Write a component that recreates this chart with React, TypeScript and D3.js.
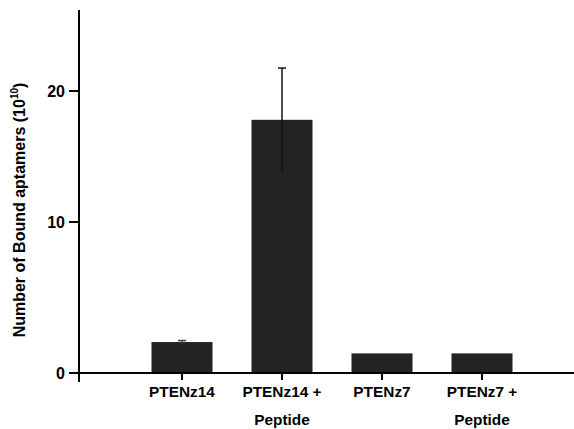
import React from "react";
import * as d3 from "d3";

const categories = ["PTENz14", "PTENz14 + Peptide", "PTENz7", "PTENz7 + Peptide"];
const labelLines = [["PTENz14"], ["PTENz14 +", "Peptide"], ["PTENz7"], ["PTENz7 +", "Peptide"]];
const values = [2.05, 17.8, 1.3, 1.3];
const errors = [0.1, 3.9, 0, 0];
const yTicks = [0, 10, 20];

const W = 574;
const H = 429;

export default function App() {
  const x = d3.scaleBand<string>().domain(categories).range([132, 532]).paddingInner(0.39).paddingOuter(0.195);
  const y = d3.scaleLinear().domain([0, 10, 20, 26]).range([373, 222, 91, 10]);
  const axisX = 79;
  const font = "Arial, 'Liberation Sans', sans-serif";
  return (
    <svg width={W} height={H} style={{ position: "absolute", left: 0, top: 0, background: "#fff" }} fontFamily={font}>
      {categories.map((c, i) => {
        const x0 = x(c)!;
        const bw = x.bandwidth();
        const cx = x0 + bw / 2;
        const v = values[i];
        const e = errors[i];
        return (
          <g key={c}>
            <rect x={x0} y={y(v)} width={bw} height={y(0) - y(v)} fill="#232323" />
            {e > 0 && (
              <g stroke={i === 1 ? "#111" : "#444"} strokeWidth={1.5}>
                <line x1={cx} x2={cx} y1={y(v + e)} y2={y(v - e)} />
                <line x1={cx - 4} x2={cx + 4} y1={y(v + e)} y2={y(v + e)} />
              </g>
            )}
          </g>
        );
      })}
      {/* y axis */}
      <line x1={axisX} x2={axisX} y1={10} y2={382} stroke="#000" strokeWidth={2} />
      {yTicks.map((t) => (
        <g key={t}>
          <line x1={axisX - 10} x2={axisX} y1={y(t)} y2={y(t)} stroke="#000" strokeWidth={2} />
          <text x={axisX - 14} y={y(t)} dy="0.36em" textAnchor="end" fontSize={16} fontWeight="bold">
            {t}
          </text>
        </g>
      ))}
      {/* x axis */}
      <line x1={axisX} x2={W} y1={y(0)} y2={y(0)} stroke="#000" strokeWidth={2} />
      {categories.map((c, i) => {
        const cx = x(c)! + x.bandwidth() / 2;
        return (
          <g key={"l" + c}>
            <line x1={cx} x2={cx} y1={y(0)} y2={y(0) + 7} stroke="#000" strokeWidth={2} />
            {labelLines[i].map((ln, j) => (
              <text
                key={j}
                transform={`translate(${cx},${397 + j * 28}) scale(1.1,1)`}
                textAnchor="middle"
                fontSize={14}
                fontWeight="bold"
              >
                {ln}
              </text>
            ))}
          </g>
        );
      })}
      <text transform={`translate(25,210) rotate(-90)`} textAnchor="middle" fontSize={16} fontWeight="bold">
        Number of Bound aptamers (10
        <tspan fontSize={10} dy={-7}>10</tspan>
        <tspan dy={7}>)</tspan>
      </text>
    </svg>
  );
}
